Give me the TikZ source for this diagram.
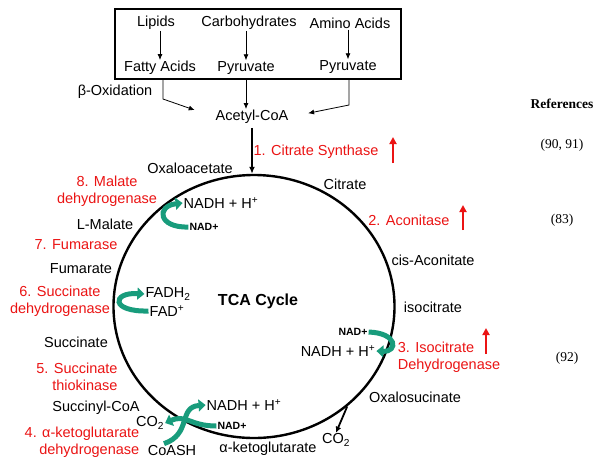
\documentclass[tikz,border=0pt]{standalone}
\usepackage{fontspec}
\setmainfont{Liberation Sans}
\newfontfamily\reffont{Liberation Serif}
\usetikzlibrary{arrows.meta,shapes.geometric,positioning}
\definecolor{enzred}{RGB}{235,20,20}
\definecolor{cofgreen}{RGB}{24,156,124}

\begin{document}
\begin{tikzpicture}[x=1pt,y=-1pt,
  every node/.style={font=\fontsize{14.5}{17}\selectfont,inner sep=1pt},
  enz/.style={text=enzred},
  nadsmall/.style={font=\fontsize{10.5}{12}\bfseries\selectfont},
  refs/.style={font=\reffont\fontsize{13.5}{16}\selectfont},
  thin arrow/.style={-{Latex[length=6pt,width=5pt]},line width=0.8pt},
  up arrow/.style={enzred,line width=2.2pt,-{Triangle[length=7pt,width=7pt]}},
  cof arrow/.style={cofgreen,line width=5pt,-{Triangle[length=7pt,width=12pt]}}]
\fill[white] (0,0) rectangle (602,467);
\useasboundingbox (0,0) rectangle (602,467);

% Fuel sources
\node[draw,line width=1.2pt,minimum width=286pt,minimum height=70pt] (srcbox) at (258,44) {};
\foreach \pos/\name/\disp in {{(156,23)/lipids/Lipids}, {(249,23)/carbo/Carbohydrates}, {(350,23)/amino/Amino Acids}, {(160,68)/fatty/Fatty Acids}, {(246,68)/pyrA/Pyruvate}, {(348,67)/pyrB/Pyruvate}}
\node (\name) at \pos {\disp};
\foreach \source/ \dest in {lipids/fatty, carbo/pyrA, amino/pyrB}
\draw[thin arrow] (\dest.north |- \source.south) -- (\dest.north);

\node (beta) at (115,92) {β-Oxidation};
\node (acetyl) at (252,117) {Acetyl-CoA};
\coordinate (fabend) at (163,99);
\coordinate (aabend) at (349,105);
\draw[thin arrow,shorten >=21pt] (fabend |- srcbox.south) -- (fabend) -- (acetyl.west);
\draw[thin arrow] (pyrA |- srcbox.south) -- (pyrA |- acetyl.north);
\draw[thin arrow,shorten >=19pt] (aabend |- srcbox.south) -- (aabend) -- (acetyl.east);

% The cycle
\node[ellipse,draw,line width=2.4pt,minimum width=281pt,minimum height=263pt,inner sep=0pt] (tca) at (254,306.5) {};
\node[font=\fontsize{16}{18}\bfseries\selectfont] (tcalabel) at (258,301) {TCA Cycle};
\draw[line width=2pt,-{Latex[length=7pt,width=6pt]},shorten <=3pt] (acetyl.south) -- (acetyl.south |- tca.north);

% Metabolites
\foreach \pos/\name/\disp in {{(190,168)/oxalo/Oxaloacetate}, {(345,184)/citrate/Citrate}, {(433,260)/cisacon/cis-Aconitate}, {(433,307)/isocit/isocitrate}, {(415,397)/oxalosuc/Oxalosucinate}, {(336,440)/co2B/CO\textsubscript{2}}, {(268,449)/akg/α-ketoglutarate}, {(172,450)/coash/CoASH}, {(150,423)/co2A/CO\textsubscript{2}}, {(96,408)/succoa/Succinyl-CoA}, {(76,342)/succ/Succinate}, {(81,269)/fum/Fumarate}, {(105,224)/lmal/L-Malate}}
\node (\name) at \pos {\disp};
\draw[line width=1.8pt,-{Latex[length=6pt,width=6pt]}] (tca.-47) -- (co2B.north);

% Enzymes
\foreach \pos/\name/\al/\disp in {{(316,152)/enzA/center/1. Citrate Synthase}, {(409,220)/enzB/center/2. Aconitase}, {(449,357)/enzC/left/3. Isocitrate\\Dehydrogenase}, {(82,442)/enzD/right/4. α-ketoglutarate\\dehydrogenase}, {(77,377)/enzE/right/5. Succinate\\thiokinase}, {(60,301)/enzF/center/6. Succinate\\dehydrogenase}, {(76,245)/enzG/center/7. Fumarase}, {(107,191)/enzH/center/8. Malate\\dehydrogenase}}
\node[enz,align=\al] (\name) at \pos {\disp};
\draw[up arrow] (enzA) ++(77,11) -- ++(0,-26);
\draw[up arrow] (enzB) ++(54,10) -- ++(0,-25);
\draw[up arrow] (enzC) ++(37,-3) -- ++(0,-26);

% Cofactors
\node (nadhA) at (221,203) {NADH + H\textsuperscript{+}};
\node[nadsmall] (nadA) at (204,227) {NAD+};
\node (fadh) at (168,294) {FADH\textsubscript{2}};
\node (fad) at (167,311) {FAD\textsuperscript{+}};
\node[nadsmall] (nadC) at (353,332) {NAD+};
\node (nadhC) at (338,351) {NADH + H\textsuperscript{+}};
\node (nadhD) at (244,405) {NADH + H\textsuperscript{+}};
\node[nadsmall] (nadD) at (232,426) {NAD+};

\draw[cof arrow] (nadA.west) .. controls (158,228) and (156,206) .. (nadhA.west);
\draw[cof arrow] (fad.west) .. controls (110,312) and (112,292) .. (fadh.west);
\draw[cof arrow] (nadC.east) .. controls (398,333) and (398,352) .. (nadhC.east);
\draw[cof arrow] ([xshift=-8pt]coash.north) .. controls (192,434) and (178,407) .. (nadhD.west);
\draw[cof arrow] (nadD.west) .. controls (190,426) and (186,414) .. (co2A.east);

% References
\node[refs,font=\reffont\bfseries\fontsize{13.5}{16}\selectfont] (refhead) at (562,104) {References};
\foreach \pos/\name/\disp in {{(562,145)/refA/(90, 91)}, {(562,220)/refB/(83)}, {(567,358)/refC/(92)}}
\node[refs] (\name) at \pos {\disp};

\end{tikzpicture}
\end{document}
